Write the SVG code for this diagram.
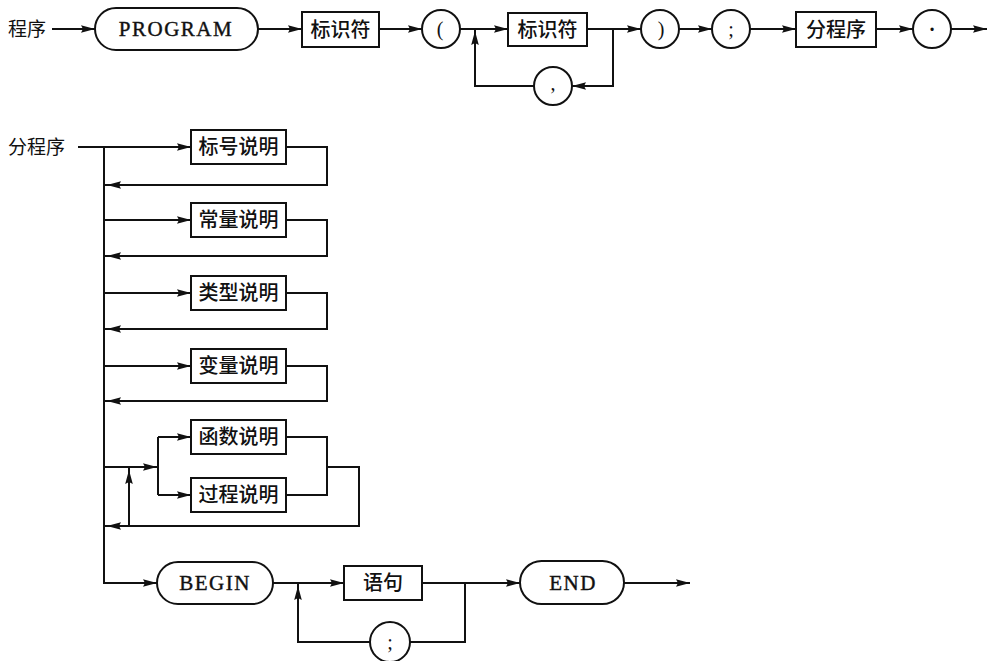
<svg xmlns="http://www.w3.org/2000/svg" width="988" height="661" viewBox="0 0 988 661">
<style>
.ln{fill:none;stroke:#111;stroke-width:2}
.ar{fill:none;stroke:#111;stroke-width:2;marker-end:url(#ah)}
.bx{fill:#fff;stroke:#111;stroke-width:2}
.cj{font-family:"Noto Sans CJK SC","Noto Sans",sans-serif;font-size:20px;fill:#111;text-anchor:middle;font-weight:500}
.lb{font-family:"Noto Sans CJK SC","Noto Sans",sans-serif;font-size:19px;fill:#111}
.kw{font-family:"Liberation Serif",serif;font-size:21px;fill:#111;text-anchor:middle;letter-spacing:1.5px;stroke:#111;stroke-width:0.4}
.pu{font-family:"Liberation Serif",serif;font-size:20px;fill:#111;text-anchor:middle}
</style>
<defs>
<marker id="ah" markerUnits="userSpaceOnUse" markerWidth="16" markerHeight="10" viewBox="0 -5 16 10" refX="14" refY="0" orient="auto">
<path d="M0,-3.8 L14,0 L0,3.8 L2,0 Z" fill="#111"/>
</marker>
</defs>
<g id="connectors">
<path class="ar" d="M52,29 H95"/>
<path class="ar" d="M258,29 H302"/>
<path class="ar" d="M379,29 H422"/>
<path class="ar" d="M460,29 H508"/>
<path class="ar" d="M587,29 H641"/>
<path class="ar" d="M613,29 V86 H572"/>
<path class="ln" d="M534,86 H475 V29"/>
<path class="ar" d="M475,47 V31"/>
<path class="ar" d="M679,29 H712"/>
<path class="ar" d="M750,29 H796"/>
<path class="ar" d="M876,29 H913"/>
<path class="ar" d="M951,29 H987"/>

<path class="ar" d="M78,147 H104 V583 H157"/>
<path class="ar" d="M104,147 H191"/>
<path class="ln" d="M286,147 H327 V185 H104"/>
<path class="ar" d="M126,185 H107"/>
<path class="ar" d="M104,220 H191"/>
<path class="ln" d="M286,220 H327 V256 H104"/>
<path class="ar" d="M126,256 H107"/>
<path class="ar" d="M104,293 H191"/>
<path class="ln" d="M286,293 H327 V329 H104"/>
<path class="ar" d="M126,329 H107"/>
<path class="ar" d="M104,366 H191"/>
<path class="ln" d="M286,366 H327 V401 H104"/>
<path class="ar" d="M126,401 H107"/>

<path class="ln" d="M104,467 H158"/>
<path class="ar" d="M138,467 H157"/>
<path class="ln" d="M158,437 V495"/>
<path class="ar" d="M158,437 H191"/>
<path class="ar" d="M158,495 H191"/>
<path class="ln" d="M286,437 H327 V495 H286"/>
<path class="ln" d="M327,467 H359 V526 H104"/>
<path class="ar" d="M126,526 H107"/>
<path class="ln" d="M129,526 V467"/>
<path class="ar" d="M129,489 V470"/>

<path class="ar" d="M273,583 H344"/>
<path class="ln" d="M422,583 H465 V642 H410"/>
<path class="ln" d="M370,642 H298 V583"/>
<path class="ar" d="M298,605 V586"/>
<path class="ar" d="M465,583 H520"/>
<path class="ar" d="M624,583 H690"/>
</g>

<g id="label-program"><text class="lb" x="8" y="36">程序</text></g>
<g id="n-program"><rect class="bx" x="95" y="8" width="163" height="42" rx="21"/><text class="kw" x="176" y="36">PROGRAM</text></g>
<g id="n-ident1"><rect class="bx" x="302" y="12" width="77" height="35"/><text class="cj" x="340.5" y="37">标识符</text></g>
<g id="n-lparen"><circle class="bx" cx="441" cy="29" r="19"/><text class="pu" x="440" y="36">(</text></g>
<g id="n-ident2"><rect class="bx" x="508" y="13" width="79" height="33"/><text class="cj" x="547.5" y="37">标识符</text></g>
<g id="n-comma"><circle class="bx" cx="553" cy="86" r="19"/><text class="pu" x="553" y="90">,</text></g>
<g id="n-rparen"><circle class="bx" cx="660" cy="29" r="19"/><text class="pu" x="661" y="36">)</text></g>
<g id="n-semi1"><circle class="bx" cx="731" cy="29" r="19"/><text class="pu" x="731" y="36">;</text></g>
<g id="n-block"><rect class="bx" x="796" y="12" width="80" height="35"/><text class="cj" x="836" y="37">分程序</text></g>
<g id="n-dot"><circle class="bx" cx="932" cy="29" r="19"/><text class="pu" x="932" y="36" font-weight="bold">·</text></g>

<g id="label-block"><text class="lb" x="8" y="154">分程序</text></g>
<g id="n-labeldecl"><rect class="bx" x="191" y="130" width="95" height="34"/><text class="cj" x="238.5" y="154">标号说明</text></g>
<g id="n-constdecl"><rect class="bx" x="191" y="203" width="95" height="34"/><text class="cj" x="238.5" y="227">常量说明</text></g>
<g id="n-typedecl"><rect class="bx" x="191" y="276" width="95" height="34"/><text class="cj" x="238.5" y="300">类型说明</text></g>
<g id="n-vardecl"><rect class="bx" x="191" y="349" width="95" height="34"/><text class="cj" x="238.5" y="373">变量说明</text></g>
<g id="n-funcdecl"><rect class="bx" x="191" y="420" width="95" height="34"/><text class="cj" x="238.5" y="444">函数说明</text></g>
<g id="n-procdecl"><rect class="bx" x="191" y="478" width="95" height="34"/><text class="cj" x="238.5" y="502">过程说明</text></g>
<g id="n-begin"><rect class="bx" x="157" y="562" width="116" height="42" rx="21"/><text class="kw" x="215" y="590">BEGIN</text></g>
<g id="n-stmt"><rect class="bx" x="344" y="566" width="78" height="34"/><text class="cj" x="383" y="590">语句</text></g>
<g id="n-semi2"><circle class="bx" cx="390" cy="642" r="20"/><text class="pu" x="390" y="649">;</text></g>
<g id="n-end"><rect class="bx" x="520" y="561" width="104" height="43" rx="21.5"/><text class="kw" x="573" y="590">END</text></g>
</svg>
